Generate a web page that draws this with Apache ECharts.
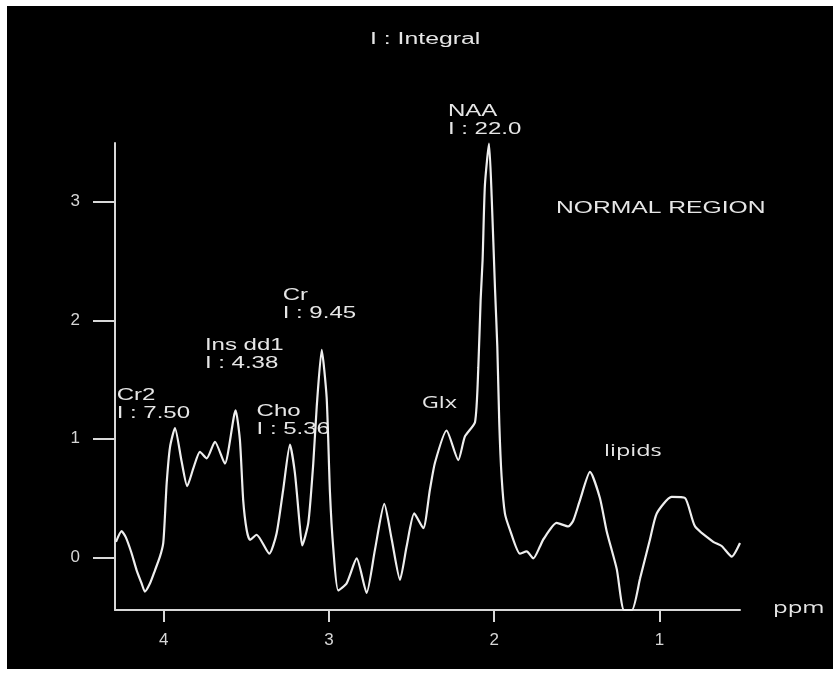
<!DOCTYPE html>
<html>
<head>
<meta charset="utf-8">
<script src="https://cdn.jsdelivr.net/npm/echarts@6/dist/echarts.min.js"></script>
<style>
html,body{margin:0;padding:0;background:#fff;width:833px;height:675px;overflow:hidden}
#c{position:absolute;left:7px;top:6px;width:826px;height:663px;background:#000}
</style>
</head>
<body>
<div id="c"></div>
<script>
// ---- data ----
const ppmValues = [4.289,4.255,4.230,4.196,4.164,4.134,4.114,4.083,4.053,4.023,4.003,3.993,3.982,3.962,3.932,3.892,3.858,3.821,3.781,3.740,3.690,3.630,3.565,3.539,3.519,3.498,3.478,3.438,3.361,3.317,3.277,3.236,3.206,3.176,3.162,3.125,3.095,3.074,3.044,3.014,2.994,2.974,2.944,2.893,2.832,2.772,2.722,2.665,2.620,2.570,2.530,2.484,2.429,2.389,2.358,2.288,2.217,2.177,2.116,2.096,2.082,2.070,2.056,2.031,2.015,1.995,1.981,1.969,1.955,1.935,1.904,1.844,1.803,1.763,1.723,1.703,1.622,1.551,1.521,1.481,1.420,1.360,1.319,1.258,1.214,1.166,1.117,1.057,1.016,0.926,0.845,0.784,0.674,0.623,0.562,0.512];
const intensity = [0.13,0.22,0.17,0.04,-0.11,-0.22,-0.29,-0.22,-0.11,0.005,0.12,0.34,0.63,0.93,1.09,0.81,0.60,0.75,0.89,0.835,0.975,0.79,1.24,0.99,0.48,0.23,0.146,0.19,0.03,0.20,0.57,0.95,0.71,0.26,0.10,0.29,0.79,1.27,1.75,1.35,0.55,0.08,-0.28,-0.22,-0.01,-0.30,0.06,0.45,0.15,-0.19,0.09,0.37,0.245,0.57,0.80,1.07,0.82,1.02,1.14,1.60,2.17,2.51,3.14,3.49,3.04,2.27,1.78,1.13,0.68,0.37,0.23,0.03,0.05,-0.01,0.09,0.15,0.29,0.26,0.31,0.48,0.72,0.50,0.22,-0.10,-0.445,-0.445,-0.18,0.15,0.37,0.51,0.50,0.26,0.13,0.095,0.005,0.12];
const xTicks = [4,3,2,1];
const yTicks = [0,1,2,3];
const peakNames = ['Cr2','Ins dd1','Cho','Cr','NAA'];
const peakIntegrals = ['7.50','4.38','5.36','9.45','22.0'];
const otherLabels = ['Glx','lipids'];
const titleText = 'I : Integral';
const regionText = 'NORMAL REGION';
const xName = 'ppm';

// ---- layout (label anchors in data coordinates) ----
const peakAnchors = [[4.285,1.435],[3.751,1.857],[3.438,1.303],[3.280,2.282],[2.280,3.832]];
const otherAnchors = [[2.439,1.294],[1.335,0.897]];

const chart = echarts.init(document.getElementById('c'));
const axisColor = '#d8d8d8';
chart.setOption({
  backgroundColor: '#000',
  animation: false,
  grid: {left: 108, top: 137, right: 93, bottom: 59},
  xAxis: {
    type: 'value', min: 0.512, max: 4.295, inverse: true,
    axisLine: {onZero: false, lineStyle: {color: axisColor, width: 2}},
    axisTick: {length: 12, customValues: xTicks, lineStyle: {color: axisColor, width: 2}},
    axisLabel: {customValues: xTicks, margin: 22, color: '#d6d6d6', fontSize: 17, fontFamily: 'Liberation Sans'},
    splitLine: {show: false}
  },
  yAxis: {
    type: 'value', min: -0.445, max: 3.496,
    axisLine: {show: true, onZero: false, lineStyle: {color: axisColor, width: 2}},
    axisTick: {show: true, length: 22, customValues: yTicks, lineStyle: {color: axisColor, width: 2}},
    axisLabel: {customValues: yTicks, margin: 35, color: '#d6d6d6', fontSize: 17, fontFamily: 'Liberation Sans'},
    splitLine: {show: false}
  },
  series: [{
    type: 'line',
    data: ppmValues.map((p, i) => [p, intensity[i]]),
    showSymbol: false,
    smooth: 0.2,
    clip: false,
    lineStyle: {color: '#eeeeee', width: 2.2}
  }]
});

const txtColor = '#e6e6e6';
const graphics = [];
peakNames.forEach((n, i) => {
  const p = chart.convertToPixel({gridIndex: 0}, peakAnchors[i]);
  graphics.push({
    type: 'text', x: p[0], y: p[1], scaleX: 1.5,
    style: {text: n + '\nI : ' + peakIntegrals[i], fill: txtColor, fontSize: 16,
            fontFamily: 'Liberation Sans', lineHeight: 17.6, align: 'left', verticalAlign: 'top'}
  });
});
otherLabels.forEach((n, i) => {
  const p = chart.convertToPixel({gridIndex: 0}, otherAnchors[i]);
  graphics.push({
    type: 'text', x: p[0], y: p[1], scaleX: 1.47,
    style: {text: n, fill: txtColor, fontSize: 16, fontFamily: 'Open Sans', align: 'left', verticalAlign: 'middle'}
  });
});
graphics.push({type: 'text', x: 363, y: 33.5, scaleX: 1.55,
  style: {text: titleText, fill: txtColor, fontSize: 16, fontFamily: 'Liberation Sans', align: 'left', verticalAlign: 'middle'}});
graphics.push({type: 'text', x: 549, y: 202, scaleX: 1.45,
  style: {text: regionText, fill: txtColor, fontSize: 17, fontFamily: 'Liberation Sans', align: 'left', verticalAlign: 'middle'}});
graphics.push({type: 'text', x: 766, y: 602, scaleX: 1.5,
  style: {text: xName, fill: txtColor, fontSize: 16, fontFamily: 'Open Sans', align: 'left', verticalAlign: 'middle'}});
chart.setOption({graphic: graphics});
</script>
</body>
</html>
